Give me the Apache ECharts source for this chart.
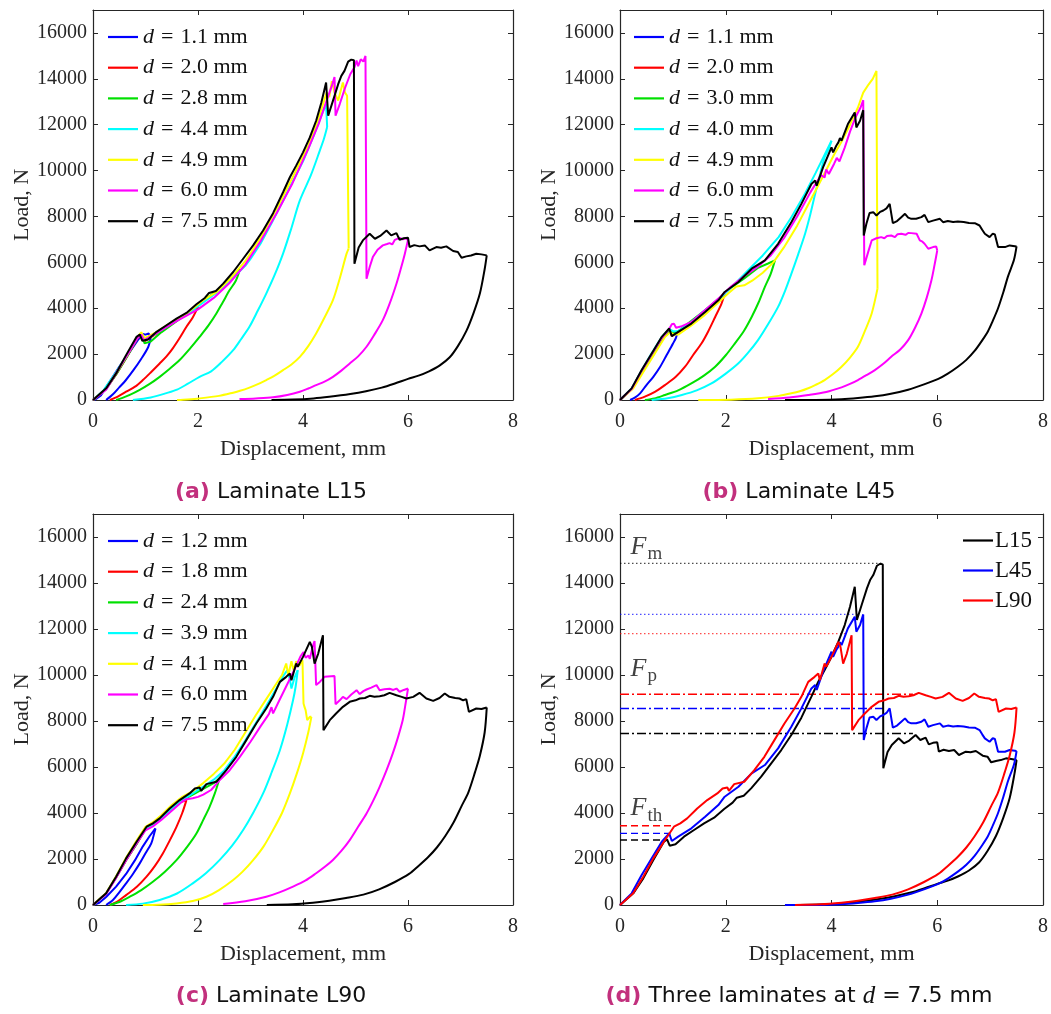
<!DOCTYPE html>
<html>
<head>
<meta charset="utf-8">
<script src="https://cdn.jsdelivr.net/npm/echarts@6/dist/echarts.min.js"></script>
<style>
html,body{margin:0;padding:0;background:#fff}
#main{width:1051px;height:1014px}
</style>
</head>
<body>
<div id="main"></div>
<script>
// ---------- axis ticks ----------
const xTicks = [0, 2, 4, 6, 8];
const yTicks = [0, 2000, 4000, 6000, 8000, 10000, 12000, 14000, 16000];

// ---------- (a) Laminate L15: load vs displacement, [mm, N] ----------
const a_d11 = [[0.03,0],[0.15,200],[0.32,800],[0.5,1450],[0.7,2100],[0.85,2600],[0.95,2880],[1.0,2850],[1.06,2900],[1.1,2700],[1.05,2300],[0.92,1800],[0.77,1300],[0.62,850],[0.5,550],[0.38,250],[0.25,0]];
const a_d20 = [[0,0],[0.25,480],[0.45,1150],[0.65,1900],[0.85,2700],[0.92,2800],[0.98,2550],[1.2,2880],[1.4,3200],[1.6,3500],[1.8,3800],[2.0,4060],[1.9,3600],[1.78,3190],[1.65,2700],[1.52,2250],[1.4,1900],[1.27,1590],[1.1,1200],[0.95,870],[0.8,580],[0.63,360],[0.48,160],[0.32,0]];
const a_d28 = [[0,0],[0.25,480],[0.45,1150],[0.65,1900],[0.85,2700],[0.93,2900],[0.98,2470],[1.1,2550],[1.3,2950],[1.6,3450],[1.9,3950],[2.1,4350],[2.3,4650],[2.5,5050],[2.7,5450],[2.8,5700],[2.72,5200],[2.6,4780],[2.47,4250],[2.35,3770],[2.2,3250],[2.03,2750],[1.85,2250],[1.65,1740],[1.45,1340],[1.27,1010],[1.08,700],[0.89,440],[0.7,220],[0.55,80],[0.44,0]];
const a_d44 = [[0,0],[0.2,420],[0.45,1250],[0.65,1950],[0.85,2750],[0.92,2850],[0.97,2600],[1.2,2900],[1.5,3350],[1.8,3750],[2.1,4250],[2.4,4750],[2.7,5400],[2.9,5850],[3.0,6150],[3.2,6850],[3.4,7700],[3.6,8600],[3.8,9500],[4.0,10400],[4.2,11500],[4.35,12400],[4.44,12900],[4.46,11900],[4.4,11400],[4.32,10870],[4.15,9800],[3.94,8700],[3.78,7500],[3.62,6380],[3.46,5450],[3.3,4640],[3.14,3900],[2.98,3190],[2.82,2650],[2.67,2170],[2.45,1650],[2.25,1250],[2.03,1010],[1.8,700],[1.6,450],[1.4,300],[1.1,110],[0.76,0]];
const a_d49 = [[0,0],[0.25,480],[0.45,1200],[0.65,1950],[0.85,2750],[0.92,2950],[0.98,2700],[1.2,2950],[1.5,3400],[1.8,3800],[2.1,4350],[2.35,4700],[2.6,5250],[2.9,6050],[3.2,7100],[3.5,8350],[3.8,9700],[4.1,11100],[4.3,12300],[4.45,13400],[4.5,13200],[4.55,13900],[4.6,13400],[4.67,13050],[4.72,13500],[4.76,13840],[4.8,13400],[4.84,13260],[4.86,13300],[4.87,6600],[4.83,6380],[4.7,5300],[4.57,4350],[4.4,3550],[4.25,2900],[4.1,2350],[3.94,1880],[3.78,1550],[3.62,1300],[3.46,1060],[3.3,870],[3.14,690],[2.98,540],[2.8,400],[2.67,320],[2.4,180],[2.03,70],[1.8,25],[1.6,0]];
const a_d60 = [[0,0],[0.25,450],[0.45,1200],[0.65,1950],[0.85,2700],[0.92,2850],[0.97,2600],[1.2,2900],[1.6,3450],[2.0,3950],[2.3,4450],[2.6,5100],[2.9,5900],[3.2,6950],[3.5,8150],[3.8,9450],[4.1,10950],[4.3,12050],[4.45,13050],[4.55,13700],[4.6,14080],[4.62,12390],[4.7,12900],[4.8,13600],[4.9,14200],[4.98,14500],[5.02,14800],[5.05,14550],[5.1,14850],[5.15,14750],[5.19,15000],[5.21,5290],[5.27,5800],[5.33,6230],[5.42,6550],[5.52,6740],[5.6,6800],[5.65,6840],[5.7,6780],[5.75,6980],[5.84,7070],[5.9,7000],[5.95,7050],[6.0,6980],[5.94,6380],[5.86,5700],[5.78,5070],[5.65,4200],[5.52,3480],[5.36,2850],[5.21,2320],[5.05,1900],[4.89,1590],[4.73,1280],[4.57,1010],[4.41,800],[4.25,650],[4.1,500],[3.94,360],[3.7,220],[3.43,120],[3.1,70],[2.79,40]];
const a_d75 = [[0,0],[0.25,507],[0.44,1159],[0.63,1956],[0.83,2754],[0.89,2855],[0.94,2580],[1.05,2637],[1.21,2970],[1.4,3260],[1.59,3550],[1.78,3796],[1.97,4173],[2.13,4449],[2.21,4666],[2.34,4753],[2.48,5072],[2.67,5579],[2.86,6158],[3.05,6738],[3.24,7390],[3.43,8144],[3.62,9057],[3.75,9708],[3.87,10216],[4.0,10795],[4.13,11447],[4.25,12172],[4.35,12969],[4.44,13838],[4.48,12389],[4.57,13041],[4.67,13766],[4.73,14128],[4.79,14345],[4.86,14751],[4.92,14838],[4.97,14809],[4.98,5941],[5.06,6650],[5.14,6957],[5.27,7246],[5.37,7029],[5.47,7150],[5.59,7391],[5.68,7174],[5.78,7275],[5.84,6985],[5.92,7050],[6.0,7072],[6.03,6667],[6.12,6750],[6.22,6696],[6.32,6739],[6.41,6522],[6.54,6667],[6.63,6640],[6.73,6696],[6.86,6493],[6.95,6450],[7.02,6203],[7.11,6261],[7.2,6300],[7.3,6377],[7.4,6348],[7.5,6304],[7.46,5700],[7.37,4650],[7.25,3800],[7.11,3000],[6.95,2350],[6.79,1850],[6.6,1500],[6.4,1250],[6.2,1060],[6.0,920],[5.75,720],[5.5,540],[5.2,380],[4.9,260],[4.5,140],[4.2,70],[3.8,20],[3.4,0]];

// ---------- (b) Laminate L45 ----------
const b_d11 = [[0,0],[0.22,480],[0.41,1250],[0.6,1950],[0.79,2650],[0.93,3050],[1.0,2950],[1.08,2950],[1.06,2720],[1.0,2450],[0.88,1950],[0.76,1450],[0.63,1010],[0.5,650],[0.38,290],[0.28,100],[0.19,0]];
const b_d20 = [[0,0],[0.22,480],[0.41,1250],[0.6,1950],[0.79,2650],[0.93,3050],[0.98,2800],[1.1,2950],[1.35,3350],[1.6,3850],[1.86,4350],[1.98,4640],[1.92,4200],[1.8,3620],[1.67,3000],[1.54,2460],[1.38,1950],[1.23,1450],[1.05,1000],[0.85,650],[0.66,350],[0.47,145],[0.28,0]];
const b_d30 = [[0,0],[0.22,480],[0.41,1250],[0.6,1950],[0.79,2650],[0.93,3050],[1.0,2900],[1.1,3000],[1.35,3450],[1.6,3900],[1.86,4400],[2.1,4900],[2.35,5300],[2.6,5750],[2.8,5950],[2.93,6086],[2.85,5500],[2.74,4930],[2.62,4250],[2.49,3620],[2.34,3000],[2.17,2460],[2.0,1950],[1.8,1450],[1.58,1050],[1.35,720],[1.1,420],[0.85,220],[0.65,70],[0.47,0]];
const b_d40 = [[0,0],[0.22,500],[0.41,1300],[0.6,2050],[0.79,2750],[0.93,3100],[1.0,3000],[1.1,3000],[1.35,3400],[1.6,3900],[1.86,4350],[2.1,4900],[2.4,5600],[2.7,6300],[3.0,7100],[3.25,8000],[3.5,9000],[3.7,9900],[3.85,10600],[4.0,11300],[3.94,10900],[3.87,10580],[3.78,9800],[3.69,8980],[3.6,8100],[3.5,7250],[3.37,6350],[3.24,5500],[3.12,4750],[2.99,4060],[2.8,3300],[2.61,2610],[2.42,2050],[2.24,1600],[2.0,1150],[1.73,720],[1.45,420],[1.17,220],[0.9,80],[0.6,0]];
const b_d49 = [[0,0],[0.25,500],[0.45,1250],[0.65,2000],[0.85,2750],[0.95,2950],[1.02,2850],[1.1,2850],[1.35,3250],[1.6,3700],[1.86,4250],[2.05,4650],[2.2,4950],[2.35,5000],[2.5,5200],[2.7,5550],[2.9,6000],[3.1,6650],[3.35,7600],[3.6,8700],[3.85,9800],[4.05,10700],[4.2,11300],[4.35,12000],[4.5,12750],[4.6,13400],[4.7,13750],[4.78,14000],[4.85,14345],[4.87,4854],[4.76,3770],[4.63,3000],[4.5,2320],[4.35,1850],[4.19,1450],[4.03,1130],[3.87,870],[3.7,660],[3.56,510],[3.4,380],[3.24,290],[3.0,180],[2.61,72],[2.1,15],[1.48,0]];
const b_d60 = [[0,0],[0.22,480],[0.41,1280],[0.6,2000],[0.79,2700],[0.93,3100],[0.98,3300],[1.02,3330],[1.06,3150],[1.15,3200],[1.35,3400],[1.6,3900],[1.86,4420],[2.1,4950],[2.35,5400],[2.6,5800],[2.85,6300],[3.1,7050],[3.35,8000],[3.6,9050],[3.8,9800],[3.87,9700],[3.9,10050],[3.95,9850],[4.05,10300],[4.1,10550],[4.15,10400],[4.25,11000],[4.35,11700],[4.45,12300],[4.55,12750],[4.6,13070],[4.62,5870],[4.7,6500],[4.76,6955],[4.85,7050],[4.94,7100],[5.0,7050],[5.05,7150],[5.13,7170],[5.2,7100],[5.25,7230],[5.32,7245],[5.4,7200],[5.45,7280],[5.51,7274],[5.61,7245],[5.67,6955],[5.72,6900],[5.76,6810],[5.83,6593],[5.92,6665],[5.98,6694],[6.0,6520],[5.95,5900],[5.89,5216],[5.8,4450],[5.7,3767],[5.58,3150],[5.45,2608],[5.3,2200],[5.13,1884],[4.98,1580],[4.82,1304],[4.66,1080],[4.5,869],[4.35,700],[4.19,551],[3.9,350],[3.56,217],[3.2,110],[2.8,43]];
const b_d75 = [[0,0],[0.22,507],[0.41,1304],[0.6,2029],[0.79,2753],[0.93,3115],[0.98,2782],[1.1,2970],[1.35,3333],[1.61,3840],[1.86,4347],[1.98,4709],[2.24,5144],[2.49,5724],[2.74,6086],[2.99,6810],[3.24,7752],[3.43,8549],[3.62,9418],[3.69,9563],[3.72,9346],[3.84,10143],[4.0,11012],[4.03,10795],[4.09,11084],[4.13,11230],[4.16,11418],[4.19,11302],[4.31,12027],[4.44,12534],[4.47,11882],[4.54,12171],[4.6,12635],[4.61,7173],[4.66,7680],[4.72,8150],[4.79,8187],[4.85,8042],[4.92,8200],[4.98,8260],[5.04,8350],[5.1,8549],[5.13,8520],[5.16,7709],[5.24,7800],[5.32,7970],[5.39,8114],[5.45,7950],[5.51,7897],[5.6,7900],[5.7,7970],[5.76,8071],[5.83,7752],[5.92,7820],[6.05,7897],[6.11,7752],[6.2,7800],[6.3,7760],[6.39,7781],[6.5,7760],[6.6,7720],[6.71,7709],[6.8,7607],[6.85,7420],[6.9,7245],[6.99,7100],[7.05,7250],[7.09,7216],[7.15,6665],[7.28,6665],[7.37,6738],[7.5,6694],[7.45,6100],[7.34,5400],[7.25,4700],[7.15,4000],[7.05,3450],[6.96,3000],[6.85,2600],[6.71,2150],[6.55,1750],[6.39,1450],[6.2,1150],[6.02,920],[5.75,680],[5.45,450],[5.1,260],[4.82,160],[4.5,85],[4.19,35],[3.7,5],[3.12,0]];

// ---------- (c) Laminate L90 ----------
const c_d12 = [[0,0],[0.12,100],[0.25,350],[0.44,800],[0.63,1350],[0.8,1950],[0.95,2550],[1.08,3000],[1.19,3330],[1.17,3150],[1.11,2680],[1.0,2250],[0.89,1810],[0.76,1350],[0.63,940],[0.5,550],[0.38,217],[0.25,0]];
const c_d18 = [[0,0],[0.25,500],[0.44,1200],[0.63,1950],[0.83,2650],[1.0,3300],[1.14,3500],[1.3,3800],[1.5,4200],[1.65,4450],[1.78,4560],[1.7,4000],[1.59,3400],[1.46,2800],[1.33,2240],[1.18,1700],[1.02,1230],[0.83,780],[0.63,430],[0.47,160],[0.32,0]];
const c_d24 = [[0,0],[0.25,500],[0.44,1200],[0.63,1950],[0.83,2650],[1.0,3300],[1.14,3500],[1.3,3800],[1.5,4200],[1.7,4550],[1.9,4800],[2.1,5050],[2.3,5300],[2.41,5500],[2.32,4850],[2.22,4270],[2.1,3700],[1.97,3110],[1.8,2550],[1.59,1950],[1.37,1450],[1.14,1010],[0.92,650],[0.7,360],[0.5,130],[0.32,0]];
const c_d39 = [[0,0],[0.25,500],[0.44,1230],[0.63,2000],[0.83,2720],[1.0,3300],[1.14,3450],[1.3,3750],[1.5,4200],[1.7,4550],[1.9,4850],[2.1,5150],[2.3,5450],[2.5,5850],[2.7,6450],[2.9,7150],[3.1,7900],[3.3,8650],[3.5,9450],[3.62,9950],[3.7,10200],[3.75,9800],[3.78,9410],[3.84,9900],[3.9,10210],[3.86,9500],[3.81,8900],[3.7,7850],[3.56,6730],[3.4,5750],[3.24,4850],[3.05,4000],[2.86,3260],[2.65,2580],[2.41,1950],[2.15,1380],[1.9,940],[1.6,500],[1.27,220],[0.95,60],[0.63,0]];
const c_d41 = [[0,0],[0.25,520],[0.44,1250],[0.63,2050],[0.83,2800],[1.0,3400],[1.14,3600],[1.3,3900],[1.5,4350],[1.7,4700],[1.9,4950],[2.1,5300],[2.3,5700],[2.5,6150],[2.7,6750],[2.9,7500],[3.1,8250],[3.3,8950],[3.5,9650],[3.6,10000],[3.68,10500],[3.72,10000],[3.78,10600],[3.82,10200],[3.87,10600],[3.93,10400],[3.99,10640],[4.01,8760],[4.03,8600],[4.05,8470],[4.08,8040],[4.13,8180],[4.16,8180],[4.1,7500],[4.0,6590],[3.88,5700],[3.75,4850],[3.6,4000],[3.43,3260],[3.25,2550],[3.05,1950],[2.85,1450],[2.67,1090],[2.4,650],[2.16,360],[1.9,170],[1.59,70],[1.25,15],[0.95,0]];
const c_d60 = [[0,0],[0.25,480],[0.44,1180],[0.63,1950],[0.83,2680],[1.0,3250],[1.14,3420],[1.3,3700],[1.5,4100],[1.7,4500],[1.78,4600],[1.9,4640],[2.0,4700],[2.1,4800],[2.25,5000],[2.4,5400],[2.6,5850],[2.8,6450],[3.0,7100],[3.2,7800],[3.35,8300],[3.4,8600],[3.43,8330],[3.55,8900],[3.7,9600],[3.85,10300],[3.95,10800],[4.01,11000],[4.05,10750],[4.1,10850],[4.13,10700],[4.18,11200],[4.22,11480],[4.25,9560],[4.32,9700],[4.41,9920],[4.6,9960],[4.62,8730],[4.7,8900],[4.76,9050],[4.83,8950],[4.92,9150],[5.02,9340],[5.08,9170],[5.15,9300],[5.21,9370],[5.3,9450],[5.4,9560],[5.46,9340],[5.55,9380],[5.65,9400],[5.72,9350],[5.78,9410],[5.84,9270],[5.92,9350],[6.0,9410],[5.95,8700],[5.9,8040],[5.81,7300],[5.71,6590],[5.59,5850],[5.46,5140],[5.34,4550],[5.21,3980],[5.05,3400],[4.89,2820],[4.73,2350],[4.57,1960],[4.41,1650],[4.25,1380],[4.05,1070],[3.81,800],[3.55,550],[3.3,360],[2.9,160],[2.48,40]];
const c_d75 = [[0,0],[0.25,507],[0.44,1231],[0.63,2027],[0.83,2751],[1.02,3403],[1.14,3548],[1.27,3765],[1.46,4199],[1.65,4561],[1.84,4851],[1.94,5068],[2.03,5111],[2.06,4967],[2.16,5256],[2.35,5358],[2.54,5864],[2.73,6444],[2.92,7168],[3.11,7892],[3.3,8543],[3.43,9050],[3.56,9702],[3.68,9919],[3.75,10064],[3.78,9774],[3.87,10498],[3.9,10353],[4.0,10788],[4.13,11439],[4.17,11222],[4.22,10498],[4.29,10932],[4.38,11729],[4.39,7602],[4.51,8036],[4.63,8326],[4.76,8616],[4.89,8833],[5.0,8900],[5.08,8978],[5.18,9000],[5.27,9094],[5.36,9050],[5.46,9079],[5.55,9120],[5.65,9224],[5.78,9122],[5.88,9050],[5.97,8978],[6.1,9050],[6.22,9224],[6.35,8978],[6.48,8876],[6.6,9000],[6.7,9195],[6.79,9050],[6.9,9000],[6.98,8978],[7.05,8900],[7.11,8949],[7.16,8398],[7.3,8543],[7.4,8520],[7.5,8587],[7.46,7500],[7.37,6500],[7.28,5800],[7.15,4900],[7.02,4300],[6.87,3600],[6.71,3000],[6.55,2500],[6.39,2100],[6.2,1700],[6.02,1350],[5.75,1000],[5.45,680],[5.15,450],[4.82,300],[4.5,180],[4.19,100],[3.8,30],[3.31,0]];

// ---------- (d) characteristic loads at d = 7.5 mm, N ----------
// order: [L15, L45, L90]
const F_th = [2824, 3113, 3446];
const F_p  = [7457, 8543, 9166];
const F_m  = [14850, 12640, 11800];
// displacement where each guide line ends, mm
const F_th_end = [0.85, 0.95, 1.0];
const F_p_end  = [5.54, 5.0, 5.54];
const F_m_end  = [4.95, 4.5, 4.3];

// ---------- legend labels ----------
const legA = ['1.1', '2.0', '2.8', '4.4', '4.9', '6.0', '7.5'];
const legB = ['1.1', '2.0', '3.0', '4.0', '4.9', '6.0', '7.5'];
const legC = ['1.2', '1.8', '2.4', '3.9', '4.1', '6.0', '7.5'];
const legD = ['L15', 'L45', 'L90'];
const captions = ['Laminate L15', 'Laminate L45', 'Laminate L90', 'Three laminates at '];

const palette = ['#0000ff', '#ff0000', '#00e000', '#00ffff', '#ffff00', '#ff00ff', '#000000'];
const laminateColors = ['#000000', '#0000ff', '#ff0000'];

const SERIF = 'Liberation Serif';
const SANS = 'DejaVu Sans';
const AX = '#262626';
const TAG = '#c2307d';

const grids = [
  { left: 93,  top: 10,  width: 420, height: 390 },
  { left: 620, top: 10,  width: 423, height: 390 },
  { left: 93,  top: 514, width: 420, height: 391 },
  { left: 620, top: 514, width: 423, height: 391 }
];

const xAxes = [], yAxes = [];
// main axes (bottom / left) with labels
for (let i = 0; i < 4; i++) {
  xAxes.push({
    type: 'value', gridIndex: i, min: 0, max: 8, interval: 2, position: 'bottom',
    name: 'Displacement, mm', nameLocation: 'middle', nameGap: 38,
    nameTextStyle: { fontFamily: SERIF, fontSize: 22, color: AX },
    axisLine: { show: true, onZero: false, lineStyle: { color: AX, width: 1.2 } },
    axisTick: { show: true, inside: true, length: 5, lineStyle: { color: AX } },
    axisLabel: { fontFamily: SERIF, fontSize: 20, color: AX, margin: 12 },
    splitLine: { show: false }
  });
  yAxes.push({
    type: 'value', gridIndex: i, min: 0, max: 17000, position: 'left',
    name: 'Load, N', nameLocation: 'middle', nameGap: 58,
    nameTextStyle: { fontFamily: SERIF, fontSize: 22, color: AX },
    axisLine: { show: true, onZero: false, lineStyle: { color: AX, width: 1.2 } },
    axisTick: { show: true, inside: true, length: 5, lineStyle: { color: AX }, customValues: yTicks },
    axisLabel: { fontFamily: SERIF, fontSize: 20, color: AX, margin: 6, customValues: yTicks,
                 formatter: v => (v > 16000 ? '' : String(v)) },
    splitLine: { show: false }
  });
}
// mirrored axes (top / right) carrying only inward ticks
for (let i = 0; i < 4; i++) {
  xAxes.push({
    type: 'value', gridIndex: i, min: 0, max: 8, interval: 2, position: 'top',
    axisLine: { show: true, onZero: false, lineStyle: { color: AX, width: 1.2 } },
    axisTick: { show: true, inside: true, length: 5, lineStyle: { color: AX } },
    axisLabel: { show: false }, splitLine: { show: false }
  });
  yAxes.push({
    type: 'value', gridIndex: i, min: 0, max: 17000, position: 'right',
    axisLine: { show: true, onZero: false, lineStyle: { color: AX, width: 1.2 } },
    axisTick: { show: true, inside: true, length: 5, lineStyle: { color: AX }, customValues: yTicks },
    axisLabel: { show: false }, splitLine: { show: false }
  });
}

// A loading/unloading record is drawn as two pieces: the loading branch with
// its sharp load drops kept as is, and the unloading branch (after the point of
// maximum displacement) drawn as a gently smoothed curve.
function curve(name, data, color, panel) {
  let iMax = 0;
  data.forEach((p, i) => { if (p[0] > data[iMax][0]) iMax = i; });
  const common = {
    type: 'line', name: name, xAxisIndex: panel, yAxisIndex: panel,
    symbol: 'none', showSymbol: false, animation: false,
    lineStyle: { color: color, width: 2 }, itemStyle: { color: color }
  };
  const out = [Object.assign({}, common, { data: data.slice(0, iMax + 1), smooth: false })];
  if (iMax < data.length - 1) {
    out.push(Object.assign({}, common, { data: data.slice(iMax), smooth: 0.3 }));
  }
  return out;
}
function guide(level, xEnd, color, type, width, opacity) {
  return {
    type: 'line', name: 'guide', data: [[0, level], [xEnd, level]],
    xAxisIndex: 3, yAxisIndex: 3, symbol: 'none', animation: false, silent: true,
    lineStyle: { color: color, width: width, type: type, opacity: opacity }, z: 1
  };
}

const series = [];
[a_d11, a_d20, a_d28, a_d44, a_d49, a_d60, a_d75].forEach((d, k) => series.push(...curve(legA[k], d, palette[k], 0)));
[b_d11, b_d20, b_d30, b_d40, b_d49, b_d60, b_d75].forEach((d, k) => series.push(...curve(legB[k], d, palette[k], 1)));
[c_d12, c_d18, c_d24, c_d39, c_d41, c_d60, c_d75].forEach((d, k) => series.push(...curve(legC[k], d, palette[k], 2)));

// characteristic-load guide lines in panel (d)
for (let k = 0; k < 3; k++) {
  series.push(guide(F_m[k], F_m_end[k], laminateColors[k], [1.5, 2.5], 1.2, 0.7));
  series.push(guide(F_p[k], F_p_end[k], laminateColors[k], [9, 3, 2, 3], 1.4, 1));
  series.push(guide(F_th[k], F_th_end[k], laminateColors[k], [7, 4], 1.4, 1));
}
[a_d75, b_d75, c_d75].forEach((d, k) => series.push(...curve(legD[k], d, laminateColors[k], 3)));

// F labels anchored on the guide levels
const fRich = {
  f: { fontFamily: SERIF, fontStyle: 'italic', fontSize: 26, color: '#111', verticalAlign: 'top', lineHeight: 26 },
  s: { fontFamily: SERIF, fontSize: 19, color: '#111', verticalAlign: 'top', lineHeight: 26, padding: [11, 0, 0, 1] }
};
series.push({
  type: 'scatter', xAxisIndex: 3, yAxisIndex: 3, symbolSize: 1, animation: false, silent: true,
  itemStyle: { color: 'transparent' },
  label: { show: true, align: 'left', verticalAlign: 'top', rich: fRich },
  data: [
    { value: [0, F_m[0]], label: { formatter: '{f|F}{s|m}', position: [11, -29] } },
    { value: [0, F_p[2]], label: { formatter: '{f|F}{s|p}', position: [11, -38] } },
    { value: [0, F_th[2]], label: { formatter: '{f|F}{s|th}', position: [11, -30] } }
  ]
});

const legRich = {
  i: { fontFamily: SERIF, fontStyle: 'italic', fontSize: 22, color: '#111' },
  e: { fontFamily: SERIF, fontSize: 22, color: '#111', padding: [0, 7, 0, 7] },
  t: { fontFamily: SERIF, fontSize: 22, color: '#111' }
};
function dLegend(names, left, top) {
  return {
    data: names, left: left, top: top, orient: 'vertical', padding: 0,
    icon: 'rect', itemWidth: 30, itemHeight: 2.2, itemGap: 8.7, selectedMode: false,
    textStyle: { fontFamily: SERIF, fontSize: 22, color: '#111', rich: legRich },
    formatter: n => '{i|d}{e|=}{t|' + n + ' mm}'
  };
}
const legends = [
  dLegend(legA, 108, 26),
  dLegend(legB, 634, 26),
  dLegend(legC, 108, 530),
  {
    data: legD, left: 963, top: 529, orient: 'vertical', padding: 0,
    icon: 'rect', itemWidth: 30, itemHeight: 2.2, itemGap: 7, selectedMode: false,
    textStyle: { fontFamily: SERIF, fontSize: 23, color: '#111', padding: [0, 0, 0, -3] }
  }
];

const capRich = {
  a: { fontFamily: SANS, fontWeight: 'bold', fontSize: 22, fill: TAG, color: TAG },
  t: { fontFamily: SANS, fontSize: 22, fill: '#111', color: '#111' },
  m: { fontFamily: SERIF, fontStyle: 'italic', fontSize: 25, fill: '#111', color: '#111' }
};
const capPos = [[271, 492], [799, 492], [271, 996], [799, 996]];
const tags = ['(a)', '(b)', '(c)', '(d)'];
const graphic = capPos.map((p, k) => ({
  type: 'text', x: p[0], y: p[1], silent: true,
  style: {
    text: '{a|' + tags[k] + '}{t| ' + captions[k] + '}' + (k === 3 ? '{m|d}{t| = 7.5 mm}' : ''),
    rich: capRich, align: 'center', verticalAlign: 'middle', fontSize: 22, fontFamily: SANS
  }
}));

const chart = echarts.init(document.getElementById('main'), null, { renderer: 'canvas' });
chart.setOption({
  animation: false,
  backgroundColor: '#ffffff',
  textStyle: { fontFamily: SERIF },
  grid: grids,
  xAxis: xAxes,
  yAxis: yAxes,
  legend: legends,
  series: series,
  graphic: graphic
});
</script>
</body>
</html>
